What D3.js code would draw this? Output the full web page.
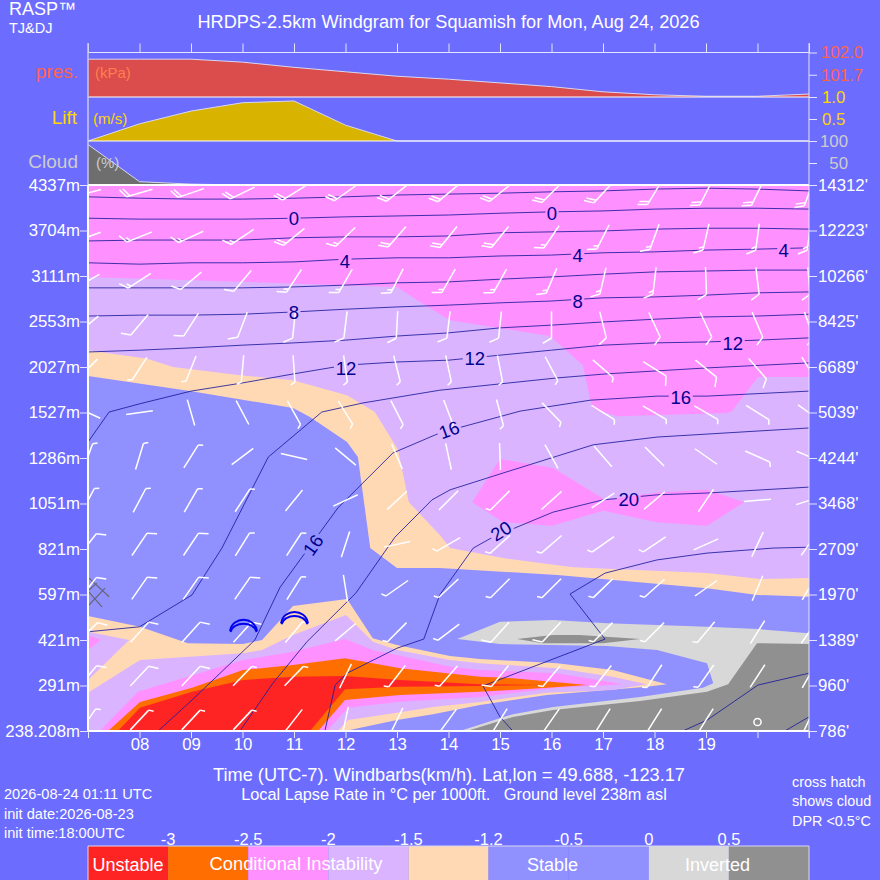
<!DOCTYPE html>
<meta charset="utf-8">
<script src="https://cdn.jsdelivr.net/npm/d3@7"></script>
<style>
    html, body { margin: 0; background: #6C6CFF; }
    svg { display: block; font-family: "Liberation Sans", Arial, sans-serif; }
    text { fill: white; }
    .axis path { display: none; }
    .axis line { stroke: #e4e4ff; }
    .axis text { font-family: "Liberation Sans", Arial, sans-serif; font-size: 16.8px; fill: white; }
</style>
<svg width="880" height="880"></svg>
<script>
    var hours = [7, 8, 9, 10, 11, 12, 13, 14, 15, 16, 17, 18, 19, 20, 21];
    var hourLabels = ["", "08", "09", "10", "11", "12", "13", "14", "15", "16", "17", "18", "19", "", ""];
    var levels = [0, 1, 2, 3, 4, 5, 6, 7, 8, 9, 10, 11, 12];
    var metreLabels = ["238.208m", "291m", "421m", "597m", "821m", "1051m", "1286m", "1527m", "2027m", "2553m", "3111m", "3704m", "4337m"];
    var feetLabels = ["786'", "960'", "1389'", "1970'", "2709'", "3468'", "4244'", "5039'", "6689'", "8425'", "10266'", "12223'", "14312'"];

    var pressure = [101.91, 101.91, 101.91, 101.87, 101.80, 101.74, 101.68, 101.64, 101.59, 101.54, 101.47, 101.43, 101.41, 101.41, 101.44];
    var lift = [0, 0.39, 0.68, 0.87, 0.91, 0.36, 0, 0, 0, 0, 0, 0, 0, 0, 0];
    var cloud = [92, 7.5, 2, 0, 0, 0, 0, 0, 0, 0, 0, 0, 0, 0, 0];

    // lapse rate regions as [hour, level], painted back to front
    var lavenderUpper = [[7, 9.98], [13, 9.76], [13.39, 9.47], [14.03, 9.03], [15.97, 8.68], [16.61, 8.04], [16.79, 7.10], [17.27, 6.92], [19.41, 6.99], [19.5, 7.03], [20.01, 7.78], [21, 7.78], [21, 0], [7, 0]];
    var pinkBlob = [[15, 5.98], [16.03, 5.78], [17.04, 5.08], [18.11, 5.25], [19.02, 5.30], [19.74, 5.03], [19.02, 4.51], [18.05, 4.59], [17, 4.84], [16.01, 4.51], [15.06, 4.59], [14.46, 5.03]];
    var peachUpper = [[7, 8.37], [8.15, 8.18], [8.65, 8.0], [9.95, 7.82], [10.98, 7.71], [12.03, 7.38], [12.57, 7.01], [13.02, 6.18], [13.23, 5.03], [13.83, 4.31], [14.03, 4.02], [15.06, 3.80], [16.42, 3.60], [19.02, 3.47], [20.05, 3.34], [21, 3.36], [21, 0], [7, 0]];
    var stableMain = [[7, 7.80], [8.98, 7.47], [10.98, 7.10], [11.31, 6.90], [12.03, 6.35], [12.24, 6.02], [12.32, 5.36], [12.48, 4.02], [13, 3.58], [13.83, 3.58], [16.11, 3.43], [19.02, 3.14], [20, 2.99], [21, 2.95], [21, 0], [7, 0]];
    var invertedLight = [[14.17, 2.02], [15, 2.40], [16.03, 2.44], [17.08, 2.37], [19.02, 2.29], [20, 2.24], [21, 2.15], [21, 0], [14.22, 0], [15.25, 0.37], [16.03, 0.53], [17.72, 0.75], [18.94, 0.95], [19.14, 1.05], [19.02, 1.49], [18.05, 1.78], [17.08, 1.87], [15, 1.91]];
    var invertedBlob = [[15.33, 2.02], [16.03, 2.11], [16.55, 2.11], [17.72, 2.02], [17, 1.93], [15.83, 1.93]];
    var invertedDark = [[19.99, 1.93], [21, 1.91], [21, 0], [14.36, 0], [15.25, 0.31], [16.03, 0.46], [17.72, 0.66], [19.02, 0.86], [19.43, 1.03]];
    var peachLower = [[7, 2.53], [8.01, 2.29], [8.94, 1.93], [10.01, 1.91], [10.38, 2.0], [10.98, 2.75], [12.03, 2.90], [12.53, 2.04], [13, 1.89], [14.03, 1.65], [14.61, 1.58], [16.11, 1.49], [17.19, 1.34], [18.24, 1.03], [17.85, 0.97], [15.91, 0.79], [14.61, 0.57], [13.7, 0.37], [13, 0.24], [11.99, 0], [7, 0]];
    var lavenderLower = [[7, 0.84], [8.01, 1.56], [10.01, 1.71], [10.38, 1.78], [10.98, 2.11], [12.01, 2.55], [12.53, 1.96], [13, 1.78], [14.03, 1.56], [14.61, 1.49], [16.11, 1.38], [17.19, 1.19], [17.85, 1.03], [17.19, 0.90], [15.91, 0.84], [14.61, 0.64], [13.7, 0.53], [13, 0.40], [12.05, 0.24], [11.85, 0], [7, 0]];
    var lavenderWedge = [[7, 2.18], [7.8, 2.0], [7, 1.12]];
    var pinkTip = [[7, 2.11], [7.25, 2.0], [7, 1.78]];
    var pinkLower = [[7.23, 0], [7.97, 0.86], [10.01, 1.56], [10.98, 1.74], [11.99, 2.02], [12.53, 1.78], [13, 1.67], [14.03, 1.41], [14.61, 1.34], [16.11, 1.27], [17.39, 1.03], [16.11, 0.95], [14.61, 0.75], [13, 0.64], [12.05, 0.51], [11.64, 0]];
    var orangeLower = [[7.39, 0], [8.01, 0.64], [9.02, 0.95], [10.01, 1.34], [10.98, 1.45], [11.99, 1.60], [13.06, 1.38], [14.61, 1.19], [15.25, 1.16], [16.69, 1.01], [15.91, 0.95], [14.61, 0.86], [13.06, 0.79], [11.99, 0.68], [11.47, 0]];
    var redLower = [[7.58, 0], [8.01, 0.51], [9.02, 0.86], [10.01, 1.12], [10.98, 1.19], [11.99, 1.21], [13.06, 1.12], [14.61, 1.03], [15.83, 1.01], [14.61, 0.99], [13.06, 0.97], [11.99, 0.92], [11.31, 0]];

    // isotherms that run across every hour, levels by hour
    var isoAcross = [
        [11.74, 11.71, 11.69, 11.69, 11.71, 11.74, 11.78, 11.80, 11.82, 11.85, 11.87, 11.91, 11.93, 11.91, 11.87],
        [11.27, 11.25, 11.25, 11.25, 11.27, 11.30, 11.32, 11.34, 11.38, 11.41, 11.43, 11.47, 11.49, 11.49, 11.47],
        [10.77, 10.79, 10.79, 10.79, 10.84, 10.86, 10.86, 10.88, 10.95, 10.97, 10.99, 11.03, 11.05, 11.05, 11.03],
        [10.29, 10.26, 10.29, 10.29, 10.31, 10.37, 10.40, 10.40, 10.44, 10.46, 10.51, 10.53, 10.57, 10.59, 10.62],
        [9.74, 9.74, 9.74, 9.74, 9.76, 9.80, 9.85, 9.87, 9.93, 9.98, 10.04, 10.09, 10.11, 10.13, 10.13],
        [9.12, 9.14, 9.14, 9.16, 9.21, 9.27, 9.32, 9.36, 9.41, 9.45, 9.52, 9.54, 9.58, 9.63, 9.65],
        [8.33, 8.37, 8.42, 8.48, 8.53, 8.59, 8.68, 8.75, 8.86, 8.92, 8.99, 9.05, 9.10, 9.12, 9.16]
    ];
    // the ones that bend, as [hour, level]
    var iso12 = [[7, 6.35], [7.41, 7.01], [8, 7.19], [9, 7.47], [10, 7.65], [11, 7.85], [12, 8.04], [13, 8.11], [14, 8.15], [15, 8.26], [16, 8.37], [17, 8.48], [18, 8.53], [19, 8.55], [20, 8.59], [21, 8.64]];
    var iso14 = [[7, 2.18], [8, 2.29], [9.02, 2.99], [9.6, 4.02], [10.5, 6.02], [11.54, 7.01], [12.34, 7.21], [13.83, 7.49], [16.11, 7.76], [17.08, 7.85], [19.02, 7.98], [21, 8.09]];
    var iso16 = [[8.36, 0], [9.02, 0.68], [10.24, 2.0], [10.73, 3.16], [11.85, 4.90], [12.92, 6.11], [13.83, 6.55], [15.39, 7.03], [16.75, 7.27], [18.05, 7.36], [19.02, 7.36], [21, 7.47]];
    var iso18 = [[9.95, 0], [10.59, 1.05], [11.25, 1.96], [12.2, 3.03], [12.96, 4.26], [13.68, 5.08], [14.03, 5.30], [15.06, 5.67], [16.81, 6.29], [18.05, 6.46], [21, 6.66]];
    var iso20 = [[11.6, 0], [11.8, 1.01], [12.03, 1.27], [13, 1.82], [13.52, 2.02], [13.83, 2.99], [14.48, 4.02], [14.86, 4.26], [16.03, 4.81], [17, 5.08], [18.05, 5.19], [19.02, 5.23], [21, 5.36]];
    var iso22 = [[15.25, 0], [15, 0.31], [14.67, 0.99], [17.04, 2.02], [16.36, 3.01], [17.04, 3.47], [18.05, 3.76], [19.02, 3.91], [20.3, 4.02], [21, 4.04]];
    var iso24 = [[18.55, 0], [19.02, 0.24], [20.01, 1.01], [21, 1.27]];
    var iso26 = [[20.53, 0], [21, 0.31]];

    var isoLabelText = ["0", "0", "4", "4", "4", "8", "8", "12", "12", "12", "16", "16", "16", "20", "20"];
    var isoLabelHour = [11, 16.01, 11.99, 16.51, 20.51, 11, 16.51, 12.01, 14.51, 19.52, 14.01, 18.51, 11.37, 15.02, 17.5];
    var isoLabelLevel = [11.27, 11.38, 10.33, 10.46, 10.57, 9.21, 9.45, 7.98, 8.2, 8.53, 6.62, 7.34, 4.09, 4.4, 5.1];
    var isoLabelSlope = [0, 0, 0, 0, 0, 0, 0, 0, 0, 0, -20, 0, -55, -32, 0];

    // wind from (degrees), rows from the bottom level up, columns by hour; null is calm
    var windDir = [
        [35, 43, 43, 43, 38, 12, 26, 36, 32, 35, 32, 32, 32, null, 25],
        [40, 43, 43, 44, 44, 26, 218, 221, 219, 220, 218, 213, 215, 213, 210],
        [45, 42, 42, 42, 40, 50, 225, 233, 222, 223, 225, 225, 220, 212, 215],
        [38, 35, 35, 35, 32, 171, 235, 227, 225, 225, 226, 228, 235, 203, 210],
        [38, 34, 34, 32, 33, 18, 78, 240, 228, 229, 235, 236, 246, 205, 215],
        [28, 28, 30, 33, 39, 65, 47, 225, 225, 228, 237, 230, 214, 265, 252],
        [20, 17, 32, 53, 103, 130, 157, 168, 178, 151, 139, 135, 125, 114, 113],
        [115, 82, 164, 152, 151, 148, 153, 159, 165, 136, 122, 120, 120, 122, 125],
        [225, 213, 202, 185, 176, 172, 166, 168, 169, 152, 131, 122, 129, 139, 148],
        [230, 220, 213, 201, 186, 187, 183, 187, 186, 180, 166, 155, 155, 157, 160],
        [240, 237, 230, 220, 213, 210, 207, 210, 209, 203, 193, 187, 178, 173, 175],
        [250, 248, 245, 236, 231, 226, 221, 219, 219, 214, 207, 200, 193, 188, 188],
        [255, 254, 251, 244, 238, 235, 232, 230, 231, 225, 223, 211, 207, 206, 200]
    ];
    // km/h, a long feather is 10 and a short one 5
    var windSpeed = [
        [5, 5, 5, 5, 0, 0, 0, 0, 0, 0, 0, 0, 0, 0, 0],
        [10, 10, 10, 5, 5, 0, 5, 5, 10, 5, 5, 5, 5, 0, 0],
        [10, 10, 10, 10, 5, 0, 5, 5, 10, 10, 5, 5, 5, 0, 0],
        [10, 10, 10, 10, 5, 0, 5, 5, 5, 5, 5, 5, 0, 0, 0],
        [10, 10, 10, 5, 5, 0, 0, 5, 5, 5, 5, 5, 0, 0, 0],
        [5, 5, 5, 5, 0, 0, 0, 0, 5, 0, 0, 0, 0, 0, 0],
        [5, 5, 5, 0, 0, 0, 0, 0, 0, 0, 0, 0, 0, 5, 0],
        [0, 0, 0, 0, 5, 5, 5, 5, 5, 5, 5, 5, 5, 5, 0],
        [5, 5, 5, 5, 5, 5, 5, 5, 5, 5, 5, 10, 10, 10, 5],
        [10, 10, 10, 10, 10, 10, 10, 10, 10, 10, 10, 10, 10, 10, 10],
        [10, 15, 10, 10, 15, 15, 15, 15, 15, 15, 15, 15, 10, 10, 10],
        [15, 15, 15, 15, 20, 15, 20, 20, 20, 15, 15, 15, 15, 15, 15],
        [20, 20, 20, 20, 20, 20, 20, 20, 20, 20, 20, 20, 20, 20, 20]
    ];

    var gliderHour = [10.02, 11.01];
    var gliderLevel = [2.33, 2.5];
    var hatch = [[[7.02, 3.36], [7.41, 2.95]], [[7.02, 3.05], [7.27, 2.73]], [[7.02, 2.77], [7.33, 3.14]], [[7.02, 3.10], [7.17, 3.25]]];

    var legendTicks = ["-3", "-2.5", "-2", "-1.5", "-1.2", "-0.5", "0", "0.5"];
    var legendColors = ["#FF2424", "#FF6E00", "#FF90FF", "#DAB4FF", "#FFD9B4", "#9090FF", "#9090FF", "#D8D8D8", "#909090"];
    var legendSteps = [0, 1, 2, 3, 4, 5, 6, 7, 8, 9];

    var red = legendColors[0], orange = legendColors[1], pink = legendColors[2], lavender = legendColors[3],
        peach = legendColors[4], stable = legendColors[5], light = legendColors[7], dark = legendColors[8];

    var svg = d3.select("svg");

    var x = d3.scaleLinear().domain([7, 21]).range([88, 809]),
        y = d3.scaleLinear().domain([0, 12]).range([731, 185]),
        yBarb = d3.scaleLinear().domain([0, 12]).range([720, 193]),
        yPres = d3.scaleLinear().domain([101.4, 102]).range([97, 52.5]),
        yLift = d3.scaleLinear().domain([0, 1]).range([141, 97]),
        yCloud = d3.scaleLinear().domain([0, 100]).range([185, 141]),
        xLegend = d3.scaleLinear().domain([0, 9]).range([88, 809]);

    var poly = d3.line().x(function(d) { return x(d[0]); }).y(function(d) { return y(d[1]); }).curve(d3.curveLinearClosed),
        path = d3.line().x(function(d) { return x(d[0]); }).y(function(d) { return y(d[1]); });

    svg.append("clipPath").attr("id", "plot").append("rect")
        .attr("x", x(7)).attr("y", y(12)).attr("width", x(21) - x(7)).attr("height", y(0) - y(12));

    // small panels on top
    function panel(values, scale, fill) {
        var area = d3.area().x(function(d, i) { return x(hours[i]); }).y0(scale.range()[0]).y1(function(d) { return scale(d); });
        var line = d3.line().x(function(d, i) { return x(hours[i]); }).y(function(d) { return scale(d); });
        svg.append("path").attr("d", area(values)).attr("fill", fill);
        svg.append("path").attr("d", line(values)).attr("fill", "none").attr("stroke", "#d8d8f0").attr("stroke-width", 1);
    }
    panel(pressure, yPres, "#DB4C4C");
    panel(lift, yLift, "#D8B400");
    panel(cloud, yCloud, "#6E6E6E");

    svg.append("g").attr("class", "axis").attr("transform", "translate(0,52.5)")
        .call(d3.axisTop(x).tickValues(hours).tickSize(9).tickFormat(""));
    svg.append("line").attr("x1", x(7)).attr("x2", x(21)).attr("y1", 52.5).attr("y2", 52.5).attr("stroke", "#e4e4ff");
    [97, 141].forEach(function(v) {
        svg.append("line").attr("x1", x(7)).attr("x2", x(21)).attr("y1", v).attr("y2", v).attr("stroke", "white").attr("stroke-width", 1.2);
    });
    svg.append("line").attr("x1", x(7)).attr("x2", x(7)).attr("y1", 43).attr("y2", 185).attr("stroke", "#c8c8f0").attr("stroke-width", 1.5);

    // lapse rate regions
    var plot = svg.append("g").attr("clip-path", "url(#plot)");
    plot.append("rect").attr("x", x(7)).attr("y", y(12)).attr("width", x(21) - x(7)).attr("height", y(0) - y(12)).attr("fill", pink);
    var regions = [
        [lavenderUpper, lavender], [pinkBlob, pink], [peachUpper, peach], [stableMain, stable],
        [invertedLight, light], [invertedBlob, dark], [invertedDark, dark],
        [peachLower, peach], [lavenderLower, lavender], [lavenderWedge, lavender], [pinkTip, pink],
        [pinkLower, pink], [orangeLower, orange], [redLower, red]
    ];
    plot.selectAll(".region").data(regions).enter().append("path")
        .attr("class", "region")
        .attr("d", function(d) { return poly(d[0]); })
        .attr("fill", function(d) { return d[1]; });

    // cross hatch for cloud
    plot.selectAll(".hatch").data(hatch).enter().append("path")
        .attr("class", "hatch").attr("d", path)
        .attr("stroke", "#666677").attr("stroke-width", 1.2).attr("fill", "none");

    // the lines stop at their labels
    var labelTransform = function(d, i) {
        return "translate(" + x(isoLabelHour[i]) + "," + y(isoLabelLevel[i]) + ") rotate(" + isoLabelSlope[i] + ")";
    };
    var gaps = svg.append("mask").attr("id", "gaps").attr("maskUnits", "userSpaceOnUse")
        .attr("x", 0).attr("y", 0).attr("width", 880).attr("height", 880);
    gaps.append("rect").attr("width", 880).attr("height", 880).attr("fill", "white");
    gaps.selectAll("rect.gap").data(isoLabelText).enter().append("rect")
        .attr("class", "gap")
        .attr("x", function(d) { return -d.length * 5.5 - 1; })
        .attr("width", function(d) { return d.length * 11 + 2; })
        .attr("y", -8).attr("height", 16)
        .attr("transform", labelTransform)
        .attr("fill", "black");

    // isotherms
    var isoLines = isoAcross.map(function(row) {
        return row.map(function(l, i) { return [hours[i], l]; });
    }).concat([iso12, iso14, iso16, iso18, iso20, iso22, iso24, iso26]);
    plot.append("g").attr("mask", "url(#gaps)").selectAll(".iso").data(isoLines).enter().append("path")
        .attr("class", "iso").attr("d", path)
        .attr("fill", "none").attr("stroke", "#1c1c9c").attr("stroke-width", 0.85);

    // wind barbs
    var barbs = plot.append("g").attr("stroke", "white").attr("stroke-width", 1.5).attr("fill", "none");
    levels.forEach(function(level) {
        hours.forEach(function(hour, i) {
            var dir = windDir[level][i], speed = windSpeed[level][i];
            if (dir === null) {
                barbs.append("circle").attr("cx", x(hour)).attr("cy", yBarb(level) + 2).attr("r", 3.6);
                return;
            }
            var g = barbs.append("g").attr("transform", "translate(" + x(hour) + "," + yBarb(level) + ") rotate(" + dir + ")");
            g.append("line").attr("x1", 0).attr("x2", 0).attr("y1", -13.5).attr("y2", 13.5);
            var along = -13.5, left = speed;
            while (left >= 5) {
                var len = left >= 10 ? 10 : 5;
                g.append("line").attr("x1", 0).attr("y1", along)
                    .attr("x2", len * 0.87).attr("y2", along - len * 0.5);
                left -= len;
                along += 3.5;
            }
        });
    });

    // gliders
    var gliders = svg.append("g").attr("fill", "none").attr("stroke", "#0000EE").attr("stroke-width", 1.9);
    gliderHour.forEach(function(h, i) {
        var g = gliders.append("g").attr("transform", "translate(" + x(h) + "," + y(gliderLevel[i]) + ")");
        g.append("path").attr("d", "M-13.5,6 C-11,-9 11,-9 13.5,6");
        g.append("path").attr("d", "M-13,7 C-10,-4 10,-4 13,7");
    });

    // isotherm labels
    svg.selectAll(".isoLabel").data(isoLabelText).enter().append("text")
        .attr("class", "isoLabel")
        .attr("text-anchor", "middle")
        .attr("dy", "0.36em")
        .attr("transform", labelTransform)
        .style("font-size", "18.5px").style("fill", "#000090")
        .text(function(d) { return d; });

    // frame
    svg.append("line").attr("x1", x(7)).attr("x2", x(7)).attr("y1", y(12)).attr("y2", y(0)).attr("stroke", "white").attr("stroke-width", 2);
    svg.append("line").attr("x1", x(7)).attr("x2", x(21)).attr("y1", y(12)).attr("y2", y(12)).attr("stroke", "white").attr("stroke-width", 2);
    svg.append("line").attr("x1", x(7)).attr("x2", x(21)).attr("y1", y(0)).attr("y2", y(0)).attr("stroke", "white").attr("stroke-width", 2);
    svg.append("line").attr("x1", x(21)).attr("x2", x(21)).attr("y1", 43).attr("y2", 738).attr("stroke", "#e4e4ff");

    // axes
    svg.append("g").attr("class", "axis").attr("transform", "translate(" + x(7) + ",0)")
        .call(d3.axisLeft(y).tickValues(levels).tickSize(8).tickPadding(0).tickFormat(function(d) { return metreLabels[d]; }));
    svg.append("g").attr("class", "axis").attr("transform", "translate(" + x(21) + ",0)")
        .call(d3.axisRight(y).tickValues(levels).tickSize(8).tickPadding(1).tickFormat(function(d) { return feetLabels[d]; }));
    svg.append("g").attr("class", "axis").attr("transform", "translate(0," + y(0) + ")")
        .call(d3.axisBottom(x).tickValues(hours).tickSize(7).tickPadding(0).tickFormat(function(d, i) { return hourLabels[i]; }));

    function sideAxis(scale, ticks, format, color, padding) {
        var g = svg.append("g").attr("class", "axis").attr("transform", "translate(" + x(21) + ",0)")
            .call(d3.axisRight(scale).tickValues(ticks).tickSize(8).tickPadding(padding).tickFormat(format));
        g.selectAll("text").style("fill", color);
        return g;
    }
    sideAxis(yPres, [102, 101.7], d3.format(".1f"), "#FF6347", 4);
    sideAxis(yLift, [1, 0.5], d3.format(".1f"), "#FFD700", 5);
    // cloud numbers line up on their right edge
    sideAxis(yCloud, [100, 50], d3.format("d"), "#CCCCCC", 31).selectAll("text").attr("text-anchor", "end");

    // legend
    svg.selectAll(".legendBox").data(legendColors).enter().append("rect")
        .attr("class", "legendBox")
        .attr("x", function(d, i) { return xLegend(legendSteps[i]); })
        .attr("y", 846)
        .attr("width", function(d, i) { return xLegend(legendSteps[i + 1]) - xLegend(legendSteps[i]); })
        .attr("height", 34)
        .attr("fill", function(d) { return d; });
    svg.append("line").attr("x1", 88).attr("x2", 809).attr("y1", 846).attr("y2", 846).attr("stroke", "#d8d8f0");
    svg.append("line").attr("x1", 88).attr("x2", 88).attr("y1", 846).attr("y2", 880).attr("stroke", "#d8d8f0");
    svg.append("line").attr("x1", 809).attr("x2", 809).attr("y1", 846).attr("y2", 880).attr("stroke", "#d8d8f0");
    svg.selectAll(".legendTick").data(legendTicks).enter().append("text")
        .attr("class", "legendTick")
        .attr("x", function(d, i) { return xLegend(i + 1); })
        .attr("y", 845)
        .attr("text-anchor", "middle")
        .style("font-size", "16.5px")
        .text(function(d) { return d; });

    // all the plain text
    function label(s, px, py, size, anchor, color) {
        svg.append("text").attr("x", px).attr("y", py)
            .attr("text-anchor", anchor || "start")
            .style("font-size", size + "px")
            .style("fill", color || "white")
            .style("white-space", "pre")
            .text(s);
    }
    label("RASP\u2122", 9, 15, 18);
    label("TJ&DJ", 9, 33, 14.5);
    label("HRDPS-2.5km Windgram for Squamish for Mon, Aug 24, 2026", 448.5, 28, 18.15, "middle");
    label("pres.", 78, 78, 19, "end", "#FF6347");
    label("Lift", 77, 124, 19, "end", "#FFD700");
    label("Cloud", 78, 168, 19, "end", "#CCCCCC");
    label("(kPa)", 95, 78, 15, "start", "#FF7F50");
    label("(m/s)", 93, 124, 15, "start", "#FFD700");
    label("(%)", 96, 168, 15, "start", "#CCCCCC");
    label("Time (UTC-7). Windbarbs(km/h). Lat,lon = 49.688, -123.17", 449, 781, 18.2, "middle");
    label("Local Lapse Rate in \u00B0C per 1000ft.   Ground level 238m asl", 454, 800, 16.3, "middle");
    label("2026-08-24 01:11 UTC", 4, 799, 14.6);
    label("init date:2026-08-23", 4, 819, 14.6);
    label("init time:18:00UTC", 4, 838, 14.6);
    label("cross hatch", 792, 787, 14.4);
    label("shows cloud", 792, 806, 14.4);
    label("DPR <0.5\u00B0C", 792, 826, 14.4);
    label("Unstable", 128, 871, 18, "middle");
    label("Conditional Instability", 296, 870, 18.3, "middle");
    label("Stable", 552.5, 871, 18, "middle");
    label("Inverted", 717.5, 871, 18, "middle");
</script>
